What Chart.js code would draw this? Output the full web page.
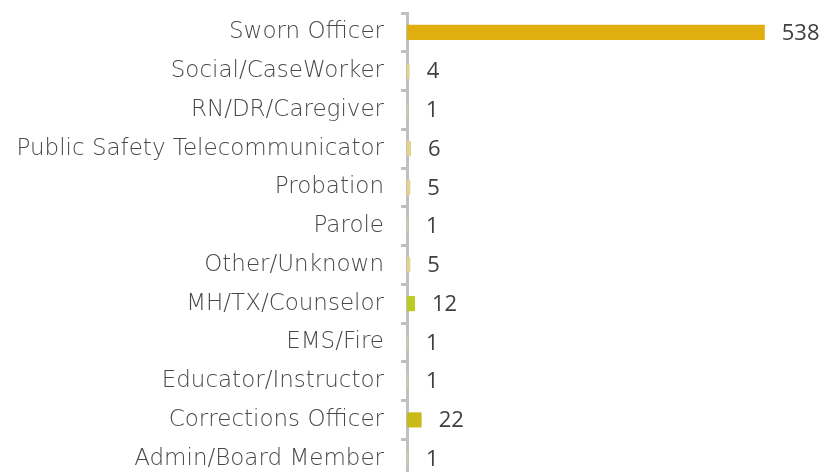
<!DOCTYPE html>
<html lang="en">
<head>
<meta charset="UTF-8" />
<title>Roles</title>
<script src="https://cdn.jsdelivr.net/npm/chart.js"></script>
<style>
  html, body { margin: 0; padding: 0; background: #ffffff; overflow: hidden; }
  #wrap { position: relative; width: 826px; height: 478px; }
</style>
</head>
<body>
<div id="wrap"><canvas id="myChart"></canvas></div>
<script>
const categories = [
  'Sworn Officer',
  'Social/CaseWorker',
  'RN/DR/Caregiver',
  'Public Safety Telecommunicator',
  'Probation',
  'Parole',
  'Other/Unknown',
  'MH/TX/Counselor',
  'EMS/Fire',
  'Educator/Instructor',
  'Corrections Officer',
  'Admin/Board Member'
];
const counts = [538, 4, 1, 6, 5, 1, 5, 12, 1, 1, 22, 1];

const barColors = ['#e1ae10', '#e3d48a', '#e3d48a', '#e3d48a', '#e3d48a', '#e3d48a',
  '#e3d48a', '#bdca1f', '#e3d48a', '#e3d48a', '#c9ba17', '#e3d48a'];

// draws the count just right of each bar
const valueLabels = {
  id: 'valueLabels',
  afterDraw(chart) {
    const ctx = chart.ctx;
    const meta = chart.getDatasetMeta(0);
    ctx.save();
    ctx.font = '22px "Open Sans"';
    ctx.fillStyle = '#404040';
    ctx.textAlign = 'left';
    ctx.textBaseline = 'middle';
    meta.data.forEach((bar, i) => {
      ctx.fillText(String(counts[i]), Math.max(bar.x, chart.chartArea.left + 2) + 17, bar.y + 1);
    });
    ctx.restore();
  }
};

new Chart(document.getElementById('myChart'), {
  type: 'bar',
  data: {
    labels: categories,
    datasets: [{
      data: counts,
      backgroundColor: barColors,
      borderWidth: 0,
      barPercentage: 0.39,
      categoryPercentage: 1
    }]
  },
  options: {
    indexAxis: 'y',
    responsive: true,
    maintainAspectRatio: false,
    animation: false,
    layout: { padding: { top: 13, right: 20, bottom: 0, left: 0 } },
    plugins: { legend: { display: false }, tooltip: { enabled: false } },
    scales: {
      x: { display: false, min: 0, max: 600 },
      y: {
        z: 1,
        afterFit(scale) {
          scale.width = 407;
          scale.paddingTop = 0;
          scale.paddingBottom = 0;
        },
        border: { display: true, color: '#c0c0c0', width: 3 },
        grid: { drawOnChartArea: false, drawTicks: true, tickLength: 6, color: '#c0c0c0', lineWidth: 3 },
        ticks: {
          padding: 17,
          color: '#484848',
          font: { family: 'DejaVu Sans', size: 23, weight: '200' }
        }
      }
    }
  },
  plugins: [valueLabels]
});
</script>
</body>
</html>
